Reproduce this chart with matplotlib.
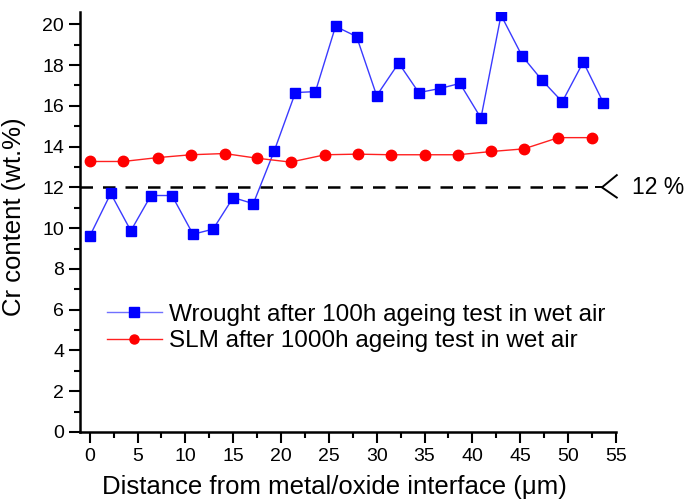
import matplotlib
matplotlib.use("Agg")
import matplotlib.pyplot as plt
from matplotlib.ticker import MultipleLocator

plt.rcParams['font.family'] = ['Liberation Sans', 'DejaVu Sans']

# Wrought after 100h ageing test (blue squares)
x_wrought = [0.0, 2.2, 4.3, 6.4, 8.6, 10.8, 12.9, 15.0, 17.1, 19.3, 21.5, 23.6, 25.7,
             27.9, 30.0, 32.3, 34.4, 36.6, 38.7, 40.9, 43.0, 45.2, 47.3, 49.4, 51.6, 53.7]
y_wrought = [9.6, 11.7, 9.87, 11.6, 11.6, 9.7, 9.95, 11.5, 11.2, 13.8, 16.65, 16.7, 19.9,
             19.4, 16.5, 18.1, 16.65, 16.85, 17.1, 15.4, 20.45, 18.45, 17.25, 16.2, 18.15, 16.15]

# SLM after 1000h ageing test (red circles)
x_slm = [0.0, 3.5, 7.1, 10.6, 14.1, 17.5, 21.0, 24.6, 28.0, 31.5, 35.0, 38.5, 42.0, 45.4, 49.0, 52.5]
y_slm = [13.27, 13.27, 13.46, 13.6, 13.66, 13.43, 13.24, 13.6, 13.63, 13.6, 13.6, 13.6, 13.76,
         13.89, 14.44, 14.44]

threshold = 12
threshold_label = '12 %'
label_w = "Wrought after 100h ageing test in wet air"
label_s = "SLM after 1000h ageing test in wet air"

fig = plt.figure(figsize=(6.85, 5.04), dpi=100)
ax = fig.add_axes([0.117, 0.143, 0.782, 0.833])

ax.plot(x_wrought, y_wrought, color='#3a3aff', lw=1.0, marker='s', ms=7,
        mfc='#0000ff', mec='#0000ff', label=label_w)
ax.plot(x_slm, y_slm, color='#ff2020', lw=1.0, marker='o', ms=7.5,
        mfc='#ff0000', mec='#ff0000', label=label_s)

ax.plot([-1, 53.0], [threshold, threshold], color='black', lw=1.8,
        dashes=(5, 4), zorder=1)

# arrow-like marker and label at right
ax.plot([52.9, 53.55], [threshold, threshold], color='black', lw=1.4, clip_on=False)
ax.plot([55.1, 53.55, 55.1], [threshold + 0.6, threshold, threshold - 0.5],
        color='black', lw=1.4, clip_on=False)
ax.annotate(threshold_label, xy=(53.55, threshold), xycoords='data',
            xytext=(21.3, 0), textcoords='offset points', va='center', ha='left',
            fontsize=16.5, annotation_clip=False)

ax.set_xlim(-1, 55)
ax.set_ylim(0, 20.6)
ax.set_xticks(range(0, 56, 5))
ax.xaxis.set_minor_locator(MultipleLocator(2.5))
ax.yaxis.set_major_locator(MultipleLocator(2))
ax.yaxis.set_minor_locator(MultipleLocator(1))

for s in ['top', 'right']:
    ax.spines[s].set_visible(False)
for s in ['left', 'bottom']:
    ax.spines[s].set_linewidth(1.8)

ax.tick_params(axis='both', which='major', direction='out', length=8, width=1.5,
               labelsize=14)
ax.tick_params(axis='both', which='minor', direction='out', length=4, width=1.5)

ax.set_xlabel('Distance from metal/oxide interface (μm)', fontsize=18.5,
              ha='left', va='baseline')
ax.xaxis.set_label_coords((101.7 - 80) / 535.7, -(494 - 432) / 420)
ax.set_ylabel('Cr content (wt.%)', fontsize=18.5, va='center')
ax.yaxis.set_label_coords((14 - 80) / 535.7, (432 - 216.5) / 420)

leg = fig.legend(handles=ax.get_lines()[:2], loc='center left',
                 bbox_to_anchor=(106.7 / 685, 1 - 328 / 504), frameon=False,
                 borderpad=0, borderaxespad=0,
                 fontsize=17.5, handlelength=2.26, handletextpad=0.31, labelspacing=0.2)
leg.legend_handles[0].set_color('#7070ff')
leg.legend_handles[0].set_markerfacecolor('#0000ff')
leg.legend_handles[0].set_markeredgecolor('#0000ff')
leg.legend_handles[1].set_color('#ff2020')
leg.legend_handles[1].set_markerfacecolor('#ff0000')
leg.legend_handles[1].set_markeredgecolor('#ff0000')
for h in leg.legend_handles:
    h.set_markersize(6.5)

fig.savefig('out.png', dpi=100)
